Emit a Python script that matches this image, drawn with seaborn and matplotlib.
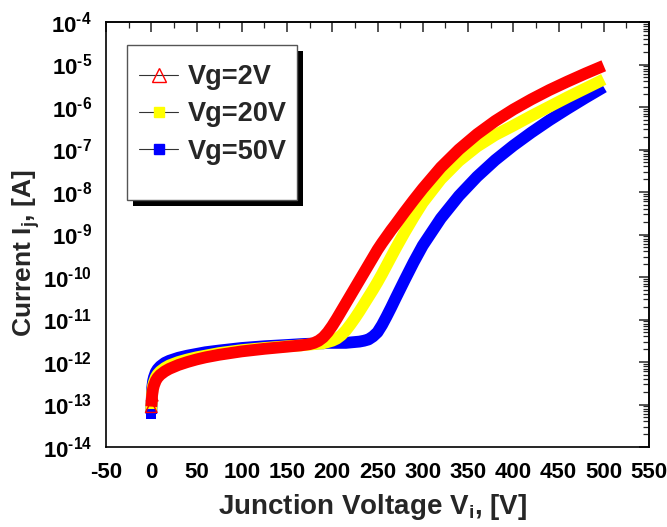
import numpy as np
import pandas as pd
import matplotlib
matplotlib.use("Agg")
import matplotlib.pyplot as plt
import seaborn as sns
from matplotlib import font_manager
from matplotlib.lines import Line2D
from matplotlib.patches import Rectangle
from matplotlib.ticker import FuncFormatter, MultipleLocator, LogLocator, NullFormatter

# ---- data ----
voltage = [0, 1, 2, 3, 5, 7, 10, 15, 20, 30, 40, 50, 60, 75, 100, 125, 150, 165, 175,
           180, 185, 190, 195, 200, 205, 210, 215, 220, 225, 230, 235, 240, 245, 250,
           255, 260, 265, 270, 280, 290, 300, 320, 340, 360, 380, 400, 420, 440, 460,
           480, 500]
log_i_vg2 = [-13.05, -12.78, -12.63, -12.55, -12.44, -12.37, -12.30, -12.22, -12.16,
             -12.07, -12.00, -11.94, -11.89, -11.83, -11.75, -11.69, -11.64, -11.61,
             -11.58, -11.55, -11.50, -11.42, -11.30, -11.15, -10.98, -10.80, -10.62,
             -10.44, -10.26, -10.08, -9.90, -9.72, -9.54, -9.36, -9.20, -9.05, -8.90,
             -8.76, -8.47, -8.19, -7.92, -7.42, -7.00, -6.64, -6.33, -6.06, -5.82,
             -5.60, -5.40, -5.21, -5.03]
log_i_vg20 = [-13.15, -12.72, -12.56, -12.48, -12.36, -12.29, -12.22, -12.14, -12.08,
              -12.00, -11.94, -11.89, -11.85, -11.79, -11.72, -11.67, -11.63, -11.61,
              -11.59, -11.58, -11.57, -11.56, -11.53, -11.50, -11.45, -11.37, -11.26,
              -11.12, -10.97, -10.81, -10.64, -10.47, -10.30, -10.12, -9.93, -9.73,
              -9.53, -9.33, -8.95, -8.59, -8.25, -7.70, -7.27, -6.93, -6.66, -6.44,
              -6.21, -5.99, -5.77, -5.56, -5.35]
log_i_vg50 = [-13.22, -12.62, -12.45, -12.36, -12.24, -12.17, -12.10, -12.02, -11.97,
              -11.90, -11.85, -11.81, -11.77, -11.73, -11.67, -11.63, -11.60, -11.58,
              -11.57, -11.57, -11.56, -11.56, -11.55, -11.55, -11.55, -11.55, -11.55,
              -11.54, -11.53, -11.52, -11.50, -11.47, -11.40, -11.30, -11.13, -10.93,
              -10.72, -10.50, -10.07, -9.65, -9.26, -8.62, -8.09, -7.64, -7.25, -6.91,
              -6.60, -6.31, -6.04, -5.78, -5.53]
series_names = ["Vg=2V", "Vg=20V", "Vg=50V"]
series_colors = ["#ff0000", "#ffff00", "#0000ff"]
x_ticks = list(range(-50, 551, 50))

frames = []
for name, logs in zip(series_names, [log_i_vg2, log_i_vg20, log_i_vg50]):
    frames.append(pd.DataFrame({"V": voltage, "I": np.power(10.0, logs), "series": name}))
df = pd.concat(frames, ignore_index=True)

# ---- style ----
sns.set_style("white")
installed = {f.name for f in font_manager.fontManager.ttflist}
narrow = "Liberation Sans Narrow" if "Liberation Sans Narrow" in installed else "Liberation Sans"
plt.rcParams["font.family"] = ["Liberation Sans", "DejaVu Sans"]
plt.rcParams["font.weight"] = "bold"
plt.rcParams["axes.unicode_minus"] = False
plt.rcParams["mathtext.fontset"] = "custom"
plt.rcParams["mathtext.rm"] = "Liberation Sans:bold"
plt.rcParams["mathtext.bf"] = "Liberation Sans:bold"
plt.rcParams["mathtext.it"] = "Liberation Sans:bold"
plt.rcParams["mathtext.default"] = "bf"

W, H = 667, 527
fig = plt.figure(figsize=(W / 100, H / 100), dpi=100)
ax = fig.add_axes([106 / W, 1 - 447 / H, 543 / W, 425 / H])

# draw blue, then yellow, then red on top
for name, col in reversed(list(zip(series_names, series_colors))):
    sub = df[df["series"] == name]
    sns.lineplot(data=sub, x="V", y="I", color=col, linewidth=8.5,
                 estimator=None, sort=False, ax=ax, legend=False,
                 solid_capstyle="butt", solid_joinstyle="round")

# separated start markers at the first points
sns.scatterplot(data=df[(df["series"] == "Vg=50V") & (df["V"] == 0)], x="V", y="I",
                marker="s", color="#0000ff", s=60, ax=ax, legend=False, zorder=3,
                linewidth=0)
sns.scatterplot(data=df[(df["series"] == "Vg=2V") & (df["V"] <= 1)], x="V", y="I",
                marker="^", facecolor="none", edgecolor="#ff0000", s=70, ax=ax,
                legend=False, zorder=4, linewidth=1.0)

ax.set_yscale("log")
ax.set_xlim(-50, 550)
ax.set_ylim(1e-14, 1e-4)
ax.set_xticks(x_ticks)
ax.xaxis.set_minor_locator(MultipleLocator(25))
ax.yaxis.set_major_locator(LogLocator(base=10, numticks=20))
ax.yaxis.set_minor_locator(LogLocator(base=10, subs=np.arange(2, 10), numticks=20))
ax.yaxis.set_minor_formatter(NullFormatter())
ax.yaxis.set_major_formatter(
    FuncFormatter(lambda v, p: r"$\mathbf{10^{\text{%d}}}$" % round(np.log10(v))))

ax.tick_params(axis="both", which="major", direction="out", length=7, width=1.1,
               pad=4, colors="black")
ax.tick_params(axis="both", which="minor", direction="out", length=4, width=0.9)
ax.tick_params(axis="y", which="major", labelsize=16, pad=3)
for lab in ax.get_xticklabels():
    lab.set_fontfamily(narrow)
    lab.set_fontweight("bold")
    lab.set_fontsize(16)

for sp in ax.spines.values():
    sp.set_color("black")
    sp.set_linewidth(1.2)

# inward ticks on top and right
top = ax.secondary_xaxis("top")
top.set_xticks(x_ticks)
top.xaxis.set_minor_locator(MultipleLocator(25))
top.tick_params(axis="x", which="major", direction="in", length=7, width=1.1, labeltop=False)
top.tick_params(axis="x", which="minor", direction="in", length=4, width=0.9)
top.spines["top"].set_linewidth(1.2)
right = ax.secondary_yaxis("right")
right.yaxis.set_major_locator(LogLocator(base=10, numticks=20))
right.yaxis.set_minor_locator(LogLocator(base=10, subs=np.arange(2, 10), numticks=20))
right.tick_params(axis="y", which="major", direction="in", length=7, width=1.1, labelright=False)
right.tick_params(axis="y", which="minor", direction="in", length=4, width=0.9, labelright=False)
right.yaxis.set_minor_formatter(NullFormatter())
right.spines["right"].set_linewidth(1.2)

ax.set_xlabel(r"Junction Voltage V$_\mathbf{i}$, [V]", fontsize=20, fontweight="bold")
ax.set_ylabel(r"Current I$_\mathbf{j}$, [A]", fontsize=19, fontweight="bold")
ax.xaxis.set_label_coords(0.49, -0.105)
ax.yaxis.set_label_coords(-0.118, 0.455)

# legend frame + shadow drawn at fixed pixel positions
bx0, by0, bx1, by1 = 127, 45, 297, 200
shadow = Rectangle(((bx0 + 6) / W, 1 - (by1 + 6) / H), (bx1 - bx0) / W, (by1 - by0) / H,
                   transform=fig.transFigure, facecolor="black", edgecolor="none",
                   zorder=8, clip_on=False)
frame = Rectangle((bx0 / W, 1 - by1 / H), (bx1 - bx0) / W, (by1 - by0) / H,
                  transform=fig.transFigure, facecolor="white", edgecolor="#555555",
                  linewidth=1.0, zorder=9, clip_on=False)
ax.add_artist(shadow)
ax.add_artist(frame)

handles = [
    Line2D([0], [0], color="#333333", lw=0.8, marker="^", markersize=10,
           markerfacecolor="none", markeredgecolor="#ff0000", markeredgewidth=1.0),
    Line2D([0], [0], color="#333333", lw=0.8, marker="s", markersize=7,
           markerfacecolor="#ffff00", markeredgecolor="#ffff00"),
    Line2D([0], [0], color="#333333", lw=0.8, marker="s", markersize=7,
           markerfacecolor="#0000ff", markeredgecolor="#0000ff"),
]
leg = ax.legend(handles, series_names, loc="upper left",
                bbox_to_anchor=((139 - 106) / 543, (447 - 64) / 425),
                borderaxespad=0, borderpad=0, frameon=False,
                prop={"family": "Liberation Sans", "weight": "bold", "size": 19.5},
                handlelength=1.45, handletextpad=0.35, labelspacing=0.42)
leg.set_zorder(10)

fig.savefig("out.png", dpi=100, facecolor="white")
